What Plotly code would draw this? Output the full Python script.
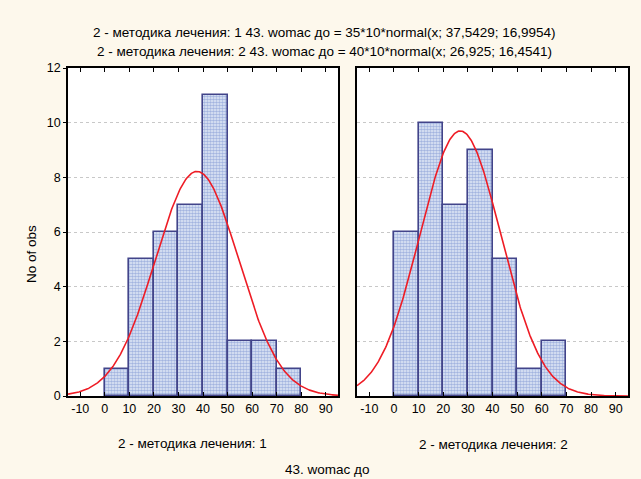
import numpy as np
import plotly.graph_objects as go

# Histogram bins (lower edges) and counts for each treatment group
bin_edges = [0, 10, 20, 30, 40, 50, 60, 70]
counts_g1 = [1, 5, 6, 7, 11, 2, 2, 1]
counts_g2 = [6, 10, 7, 9, 5, 1, 2, 0]

# Fitted normal parameters: N, mean, sd
fit_g1 = (35, 37.5429, 16.9954)
fit_g2 = (40, 26.925, 16.4541)
bin_width = 10

x_ticks = list(range(-10, 100, 10))
x_ticktext = [str(v) for v in x_ticks]  # plain hyphen for negatives
y_ticks = list(range(0, 14, 2))

titles = [
    "2 - методика лечения: 1 43. womac до = 35*10*normal(x; 37,5429; 16,9954)",
    "2 - методика лечения: 2 43. womac до = 40*10*normal(x; 26,925; 16,4541)",
]
panel_labels = ["2 - методика лечения: 1", "2 - методика лечения: 2"]
x_title = "43. womac до"
y_title = "No of obs"

BG = "#FDF8EC"
FONT = "Liberation Sans, Arial, sans-serif"


def normal_curve(n, mu, sd, xs):
    return n * bin_width * np.exp(-0.5 * ((xs - mu) / sd) ** 2) / (sd * np.sqrt(2 * np.pi))


fig = go.Figure()
xs = np.linspace(-15, 95, 400)

for i, (counts, fit) in enumerate([(counts_g1, fit_g1), (counts_g2, fit_g2)]):
    xa = "x" if i == 0 else "x2"
    ya = "y" if i == 0 else "y2"
    centers = [e + bin_width / 2 for e, c in zip(bin_edges, counts) if c > 0]
    vals = [c for c in counts if c > 0]
    fig.add_trace(go.Bar(
        x=centers, y=vals, width=bin_width, xaxis=xa, yaxis=ya,
        marker=dict(
            color="white",
            line=dict(color="#42448A", width=1.6),
            pattern=dict(shape=".", fgcolor="#5F7CC6", bgcolor="#E6ECF8",
                         size=3, solidity=0.6),
        ),
        showlegend=False, hoverinfo="skip",
    ))
    fig.add_trace(go.Scatter(
        x=xs, y=normal_curve(*fit, xs), mode="lines", xaxis=xa, yaxis=ya,
        line=dict(color="#EE1C25", width=1.6), showlegend=False, hoverinfo="skip",
    ))

axis_common = dict(
    showline=True, linecolor="black", linewidth=1.5,
    zeroline=False, automargin=False,
)
xaxis_cfg = dict(
    axis_common, range=[-15, 95], tickvals=x_ticks, ticktext=x_ticktext,
    ticks="inside", ticklen=4, tickcolor="black", mirror="ticks",
    showgrid=False, tickfont=dict(family=FONT, size=12.5, color="black"),
)
yaxis_cfg = dict(
    axis_common, range=[0, 12], tickvals=y_ticks, mirror=True, showgrid=True,
    gridcolor="#C8C8C8", griddash="dot", gridwidth=1,
    tickfont=dict(family=FONT, size=12.5, color="black"),
)

fig.update_layout(
    width=641, height=479,
    margin=dict(l=0, r=0, t=0, b=0),
    paper_bgcolor=BG, plot_bgcolor="white",
    bargap=0,
    xaxis=dict(xaxis_cfg, domain=[68 / 641, 338 / 641], anchor="y"),
    xaxis2=dict(xaxis_cfg, domain=[357 / 641, 628 / 641], anchor="y2"),
    yaxis=dict(yaxis_cfg, domain=[1 - 396 / 479, 1 - 68 / 479], anchor="x",
               ticks="outside", ticklen=3, tickcolor="black"),
    yaxis2=dict(yaxis_cfg, domain=[1 - 396 / 479, 1 - 68 / 479], anchor="x2",
                showticklabels=False, ticks=""),
    font=dict(family=FONT, size=12, color="black"),
)

annotations = [
    dict(text=titles[0], x=324 / 641, y=1 - 32 / 479),
    dict(text=titles[1], x=324 / 641, y=1 - 51 / 479),
    dict(text=panel_labels[0], x=193 / 641, y=1 - 443 / 479),
    dict(text=panel_labels[1], x=493 / 641, y=1 - 444 / 479),
    dict(text=x_title, x=327 / 641, y=1 - 469 / 479),
    dict(text=y_title, x=31 / 641, y=1 - 254 / 479, textangle=-90),
]
for a in annotations:
    fig.add_annotation(
        xref="paper", yref="paper", showarrow=False,
        xanchor="center", yanchor="middle",
        font=dict(family=FONT, size=13.5, color="black"), **a,
    )

fig.write_html("out.html")
